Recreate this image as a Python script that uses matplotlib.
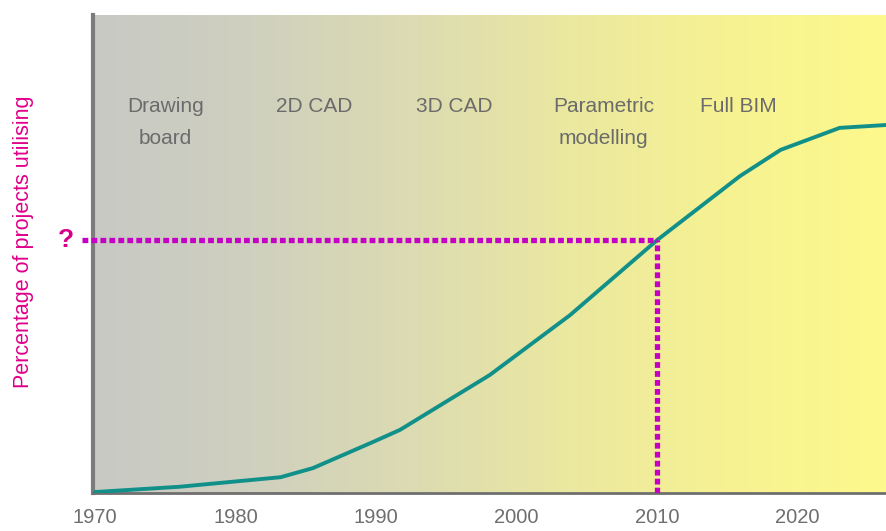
import numpy as np
import matplotlib
matplotlib.use("Agg")
import matplotlib.pyplot as plt
from matplotlib.colors import LinearSegmentedColormap

plt.rcParams['font.family'] = ['Liberation Sans', 'DejaVu Sans']

# adoption curve (year, % of projects)
years = [1970, 1976, 1983.2, 1985.5, 1989.8, 1991.7, 1998.1, 2003.8, 2010, 2015.9, 2018.8, 2023, 2026.3]
share = [0.2, 1.3, 3.3, 5.2, 10.7, 13.2, 24.7, 37.2, 52.9, 66.3, 71.8, 76.4, 77.0]

tick_years = [1970, 1980, 1990, 2000, 2010, 2020]

phases = ["Drawing\nboard", "2D CAD", "3D CAD", "Parametric\nmodelling", "Full BIM"]
phase_x = [1975.0, 1985.6, 1995.6, 2006.2, 2015.8]

marker_year = 2010
marker_share = 52.9

fig = plt.figure(figsize=(8.86, 5.31), dpi=100)
ax = fig.add_axes([0.105, 0.0716, 0.895, 0.9])

x0, x1 = 1969.85, 2026.3
ax.set_xlim(x0, x1)
ax.set_ylim(0, 100)

# grey -> yellow background
bg = LinearSegmentedColormap.from_list(
    "bg", ["#c8c9c4", "#cfd0bf", "#dcdbb2", "#ebe8a0", "#f6f292", "#fdf98c"])
grad = np.linspace(0, 1, 256).reshape(1, -1)
ax.imshow(grad, cmap=bg, extent=[x0, x1, 0, 100], aspect="auto", zorder=0)

ax.plot(years, share, color="#11908a", lw=2.8, solid_capstyle="round", zorder=3)

# dotted guide lines to the "?" marker
mag = "#c400c4"
ax.plot([1969.1, marker_year], [marker_share, marker_share], color=mag, lw=3.8,
        dashes=(1.1, 0.6), clip_on=False, zorder=4)
ax.plot([marker_year, marker_year], [0, marker_share], color=mag, lw=3.8,
        dashes=(1.1, 0.6), zorder=4)
ax.text(1967.9, marker_share, "?", color="#d4008a", fontsize=19, fontweight="bold",
        ha="center", va="center", clip_on=False)

for label, px in zip(phases, phase_x):
    ax.text(px, 82.8, label, ha="center", va="top", fontsize=15, color="#6b6b6b",
            linespacing=1.85)

ax.set_xticks(tick_years)
ax.set_xticklabels([str(y) for y in tick_years], fontsize=14.5, color="#6e6e6e")
ax.tick_params(axis="x", length=0, pad=11)
ax.set_yticks([])

for s in ["top", "right"]:
    ax.spines[s].set_visible(False)
ax.spines["left"].set_color("#7c7c7c")
ax.spines["left"].set_linewidth(3)
ax.spines["bottom"].set_color("#6f6f6f")
ax.spines["bottom"].set_linewidth(2)

fig.text(0.026, 0.545, "Percentage of projects utilising", rotation=90,
         ha="center", va="center", fontsize=15.5, color="#e0008a")

fig.savefig("out.png", dpi=100)
